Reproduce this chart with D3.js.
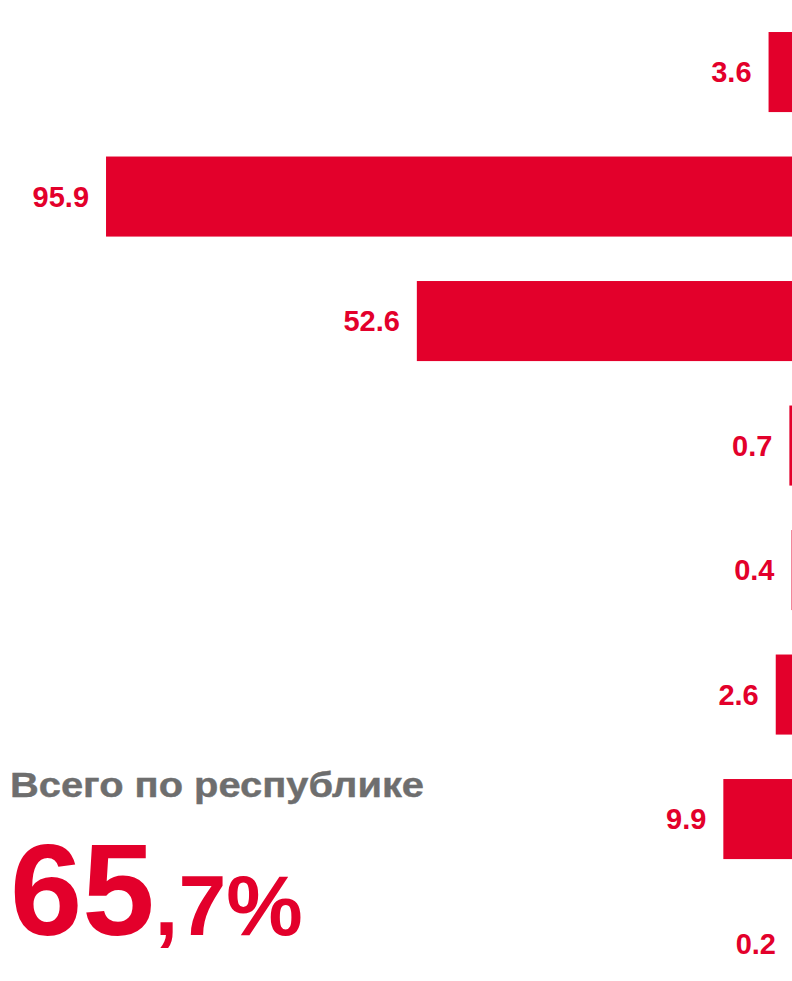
<!DOCTYPE html>
<html><head><meta charset="utf-8">
<script src="https://cdn.jsdelivr.net/npm/d3@7"></script>
<style>html,body{margin:0;padding:0;background:#fff;overflow:hidden}</style>
</head><body>
<svg id="c" width="792" height="981"></svg>
<script>
const categories = ["r1","r2","r3","r4","r5","r6","r7","r8"];
const values = [3.6, 95.9, 52.6, 0.7, 0.4, 2.6, 9.9, 0.2];
const totalLabel = "Всего по республике";
const totalInt = "65";
const totalFrac = ",7%";

const RED = "#e3002b";
const svg = d3.select("#c");
const x = d3.scaleLinear().domain([0, 100]).range([794.4, 76.6]);
const y = d3.scaleBand().domain(categories).range([9.8, 1005.8]).paddingInner(0.357).paddingOuter(0.1785);

svg.selectAll("rect.bar").data(values).join("rect")
  .attr("class","bar")
  .attr("x", d => x(d))
  .attr("y", (d,i) => y(categories[i]))
  .attr("width", d => x(0) - x(d))
  .attr("height", y.bandwidth())
  .attr("fill", RED);

const fs = 29;
svg.selectAll("text.val").data(values).join("text")
  .attr("class","val")
  .attr("x", d => x(d) - 17)
  .attr("y", (d,i) => y(categories[i]) + y.bandwidth()/2 + fs*0.358)
  .attr("text-anchor","end")
  .attr("font-family","'Liberation Sans', Arial, sans-serif")
  .attr("font-weight","bold")
  .attr("font-size", fs)
  .attr("fill", RED)
  .text(d => d.toFixed(1));

svg.append("text")
  .attr("x", 10).attr("y", 796.5)
  .attr("font-family","'Liberation Sans', Arial, sans-serif")
  .attr("font-weight","bold")
  .attr("font-size", 34.5)
  .attr("textLength", 414)
  .attr("lengthAdjust", "spacingAndGlyphs")
  .attr("stroke", "#6e6e6e")
  .attr("stroke-width", 0.4)
  .attr("fill", "#6e6e6e")
  .text(totalLabel);

const t = svg.append("text")
  .attr("x", 10).attr("y", 935)
  .attr("font-family","'Liberation Sans', Arial, sans-serif")
  .attr("font-weight","bold")
  .attr("fill", RED);
t.append("tspan").attr("font-size", 130).text(totalInt);
t.append("tspan").attr("font-size", 86).text(totalFrac);
</script>
</body></html>
